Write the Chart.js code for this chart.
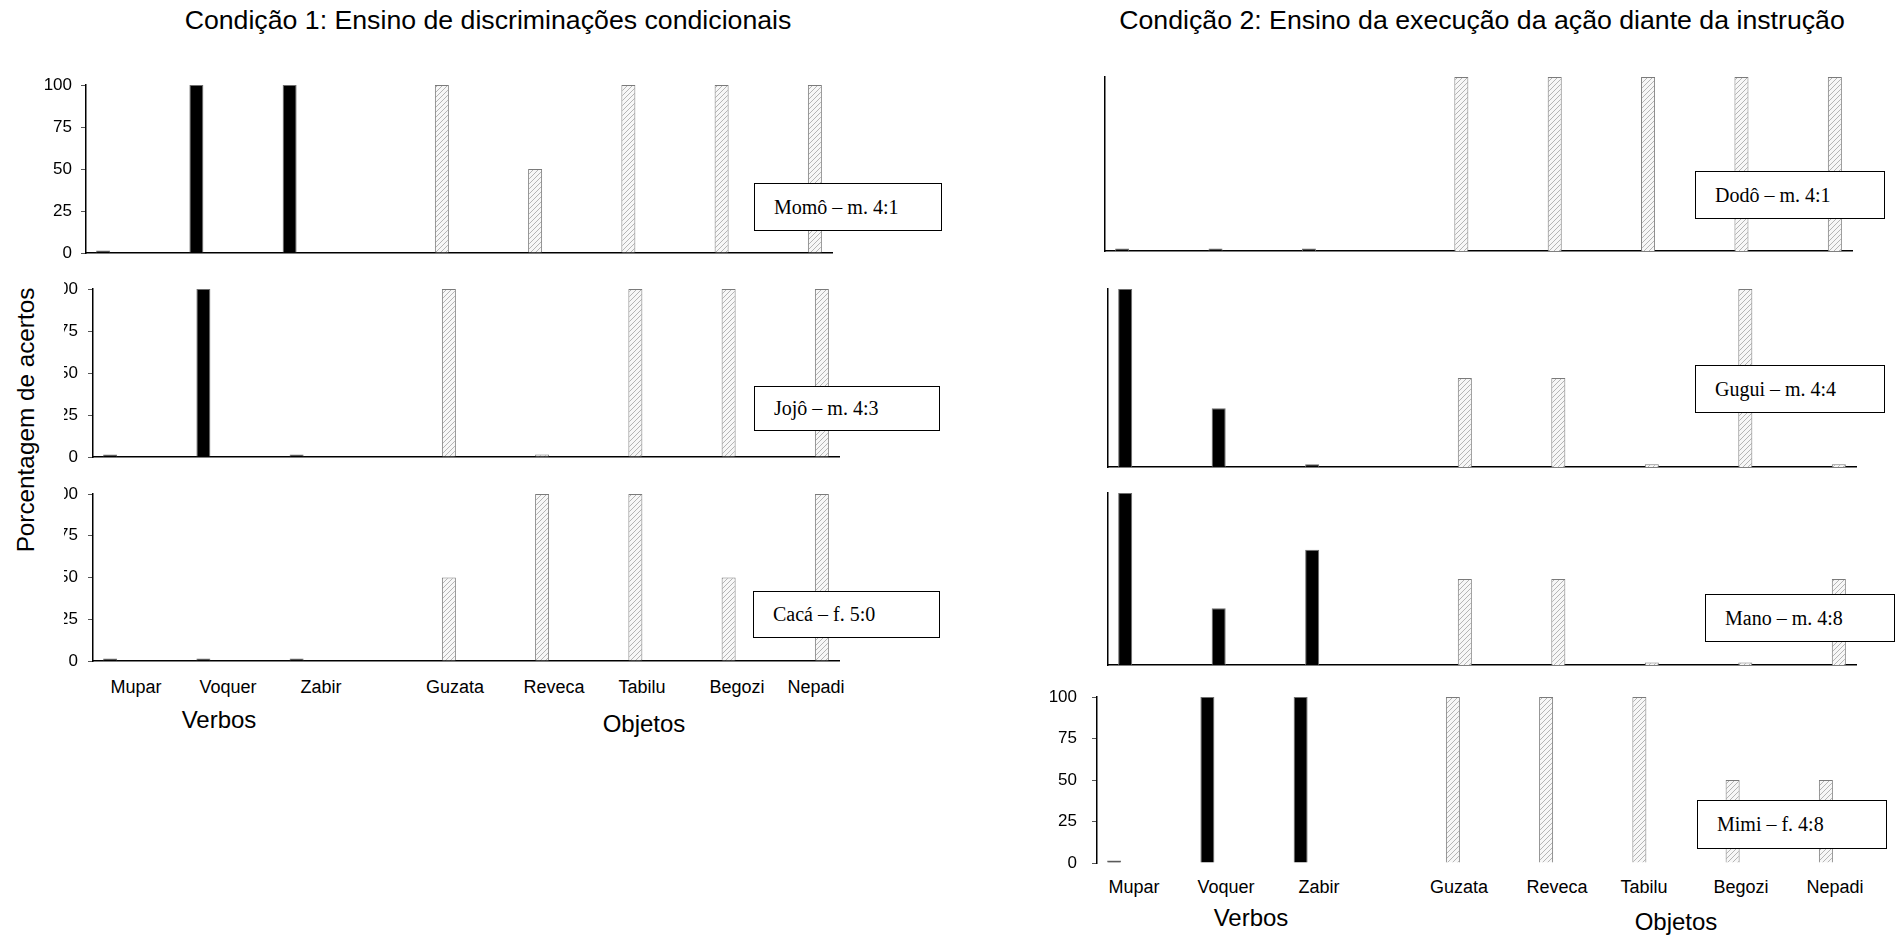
<!DOCTYPE html>
<html lang="pt">
<head>
<meta charset="utf-8">
<title>Porcentagem de acertos por participante</title>
<script src="https://cdn.jsdelivr.net/npm/chart.js@4.4.1/dist/chart.umd.min.js"></script>
<style>
  html, body { margin: 0; padding: 0; background: #fff; }
  body { width: 1896px; height: 936px; position: relative; overflow: hidden; font-family: "Liberation Sans", Arial, sans-serif; color: #000; }
  canvas { position: absolute; }
  .txt { position: absolute; white-space: nowrap; transform: translate(-50%, -50%); line-height: 1; }
  .title { font-size: 26.7px; }
  .axis-title { font-size: 24px; }
  .cat { font-size: 18px; }
  .ytitle { font-size: 24.3px; transform: translate(-50%, -50%) rotate(-90deg); }
  .namebox { position: absolute; box-sizing: border-box; border: 1px solid #000; background: #fff;
             font-family: "Liberation Serif", "Times New Roman", serif; font-size: 20px; padding-left: 19px; white-space: nowrap; }
</style>
</head>
<body>
<script>
// Categories: three verbs followed by five objects
const categories = ['Mupar', 'Voquer', 'Zabir', 'Guzata', 'Reveca', 'Tabilu', 'Begozi', 'Nepadi'];
const verbCount = 3;
const yTickValues = [0, 25, 50, 75, 100];

// Percentage of correct responses per participant (same order as categories)
const momo  = [1.5, 100, 100, 100, 50, 100, 100, 100];
const jojo  = [1.5, 100, 1.5, 100, 1.5, 100, 100, 100];
const caca  = [1.5, 1.5, 1.5, 50, 100, 100, 50, 100];
const dodo  = [1.5, 1.5, 1.5, 100, 100, 100, 100, 100];
const gugui = [100, 33, 1.5, 50, 50, 1.5, 100, 1.5];
const mano  = [100, 33, 67, 50, 50, 1.5, 1.5, 50];
const mimi  = [1.5, 100, 100, 100, 100, 100, 50, 50];

// Participant captions
const momoName  = 'Momô – m. 4:1';
const jojoName  = 'Jojô – m. 4:3';
const cacaName  = 'Cacá – f. 5:0';
const dodoName  = 'Dodô – m. 4:1';
const guguiName = 'Gugui – m. 4:4';
const manoName  = 'Mano – m. 4:8';
const mimiName  = 'Mimi – f. 4:8';

// Page layout (pixels): plot area of each panel and its caption box
const panels = [
  { values: momo,  name: momoName,  area: { l: 86,   t: 85,  r: 832,  b: 253 }, canvasLeft: 0,    yLabels: true,  labelPad: 9,  xLine: true,  box: { x: 754,  y: 183, w: 188, h: 48 } },
  { values: jojo,  name: jojoName,  area: { l: 93,   t: 289, r: 839,  b: 457 }, canvasLeft: 64,   yLabels: true,  labelPad: 10, xLine: true,  box: { x: 754,  y: 386, w: 186, h: 45 } },
  { values: caca,  name: cacaName,  area: { l: 93,   t: 494, r: 839,  b: 661 }, canvasLeft: 64,   yLabels: true,  labelPad: 10, xLine: true,  box: { x: 753,  y: 591, w: 187, h: 47 } },
  { values: dodo,  name: dodoName,  area: { l: 1105, t: 77,  r: 1852, b: 251 }, canvasLeft: 1095, yLabels: false, labelPad: 0,  xLine: true,  box: { x: 1695, y: 171, w: 190, h: 48 } },
  { values: gugui, name: guguiName, area: { l: 1108, t: 289, r: 1856, b: 467 }, canvasLeft: 1098, yLabels: false, labelPad: 0,  xLine: true,  box: { x: 1695, y: 365, w: 190, h: 48 } },
  { values: mano,  name: manoName,  area: { l: 1108, t: 493, r: 1856, b: 665 }, canvasLeft: 1098, yLabels: false, labelPad: 0,  xLine: true,  box: { x: 1705, y: 594, w: 190, h: 48 } },
  { values: mimi,  name: mimiName,  area: { l: 1097, t: 697, r: 1843, b: 863 }, canvasLeft: 1040, yLabels: true,  labelPad: 15, xLine: false, box: { x: 1697, y: 800, w: 190, h: 49 } }
];

// Category label centres under the bottom panel of each column
const leftCatX  = [136, 228, 321, 455, 554, 642, 737, 816];
const leftCatY  = 687;
const rightCatX = [1134, 1226, 1319, 1459, 1557, 1644, 1741, 1835];
const rightCatY = 887;

function addText(cls, text, x, y) {
  const d = document.createElement('div');
  d.className = 'txt ' + cls;
  d.textContent = text;
  d.style.left = x + 'px';
  d.style.top = y + 'px';
  document.body.appendChild(d);
}

function hatchPattern() {
  const c = document.createElement('canvas');
  c.width = 5; c.height = 5;
  const g = c.getContext('2d');
  g.fillStyle = '#f7f7f7';
  g.fillRect(0, 0, 5, 5);
  g.strokeStyle = '#b5b5b5';
  g.lineWidth = 1;
  g.beginPath();
  g.moveTo(0, 5); g.lineTo(5, 0);
  g.moveTo(-1, 1); g.lineTo(1, -1);
  g.moveTo(4, 6); g.lineTo(6, 4);
  g.stroke();
  return g.createPattern(c, 'repeat');
}

const hatch = hatchPattern();
const tickFont = { family: '"Liberation Sans", Arial, sans-serif', size: 17 };

function drawPanel(p) {
  const padTop = 12, padRight = 4, xH = 12;
  const yW = p.area.l - p.canvasLeft;
  const width = (p.area.r - p.area.l) + yW + padRight;
  const height = (p.area.b - p.area.t) + padTop + xH;

  const cv = document.createElement('canvas');
  cv.width = width; cv.height = height;
  cv.style.left = p.canvasLeft + 'px';
  cv.style.top = (p.area.t - padTop) + 'px';
  cv.style.width = width + 'px';
  cv.style.height = height + 'px';
  document.body.appendChild(cv);

  const verbData = p.values.map((v, i) => (i < verbCount ? v : null));
  const objectData = p.values.map((v, i) => (i >= verbCount ? v : null));

  new Chart(cv, {
    type: 'bar',
    data: {
      labels: categories,
      datasets: [
        { label: 'Verbos', data: verbData, backgroundColor: '#000', borderColor: '#6e6e6e', borderWidth: 1,
          categoryPercentage: 1.265, barPercentage: 0.2373 },
        { label: 'Objetos', data: objectData, backgroundColor: hatch, borderColor: '#7a7a7a', borderWidth: 1,
          categoryPercentage: 1.265, barPercentage: 0.2373 }
      ]
    },
    options: {
      responsive: false,
      animation: false,
      devicePixelRatio: 1,
      layout: { padding: { top: padTop, right: padRight, left: 0, bottom: 0 } },
      plugins: { legend: { display: false }, tooltip: { enabled: false } },
      scales: {
        x: {
          type: 'category',
          offset: true,
          grid: { display: false, drawTicks: false },
          border: { display: p.xLine, color: '#000', width: 1.5 },
          ticks: { display: false },
          afterFit: s => { s.height = xH; }
        },
        y: {
          min: 0, max: 100,
          afterBuildTicks: s => { s.ticks = yTickValues.map(v => ({ value: v })); },
          grid: { display: p.yLabels, drawOnChartArea: false, drawTicks: p.yLabels, tickLength: 5, color: '#555' },
          border: { display: true, color: '#000', width: 1.5 },
          ticks: { display: p.yLabels, padding: p.labelPad, font: tickFont, color: '#000' },
          afterFit: s => { s.width = yW; s.paddingTop = 0; s.paddingBottom = 0; }
        }
      }
    }
  });

  const b = document.createElement('div');
  b.className = 'namebox';
  b.textContent = p.name;
  b.style.left = p.box.x + 'px';
  b.style.top = p.box.y + 'px';
  b.style.width = p.box.w + 'px';
  b.style.height = p.box.h + 'px';
  b.style.lineHeight = (p.box.h - 2) + 'px';
  document.body.appendChild(b);
}

panels.forEach(drawPanel);

// Titles and axis titles
addText('title', 'Condição 1: Ensino de discriminações condicionais', 488, 20);
addText('title', 'Condição 2: Ensino da execução da ação diante da instrução', 1482, 20);
addText('ytitle', 'Porcentagem de acertos', 26, 420);
addText('axis-title', 'Verbos', 219, 720);
addText('axis-title', 'Objetos', 644, 724);
addText('axis-title', 'Verbos', 1251, 918);
addText('axis-title', 'Objetos', 1676, 922);

categories.forEach((c, i) => {
  addText('cat', c, leftCatX[i], leftCatY);
  addText('cat', c, rightCatX[i], rightCatY);
});
</script>
</body>
</html>
